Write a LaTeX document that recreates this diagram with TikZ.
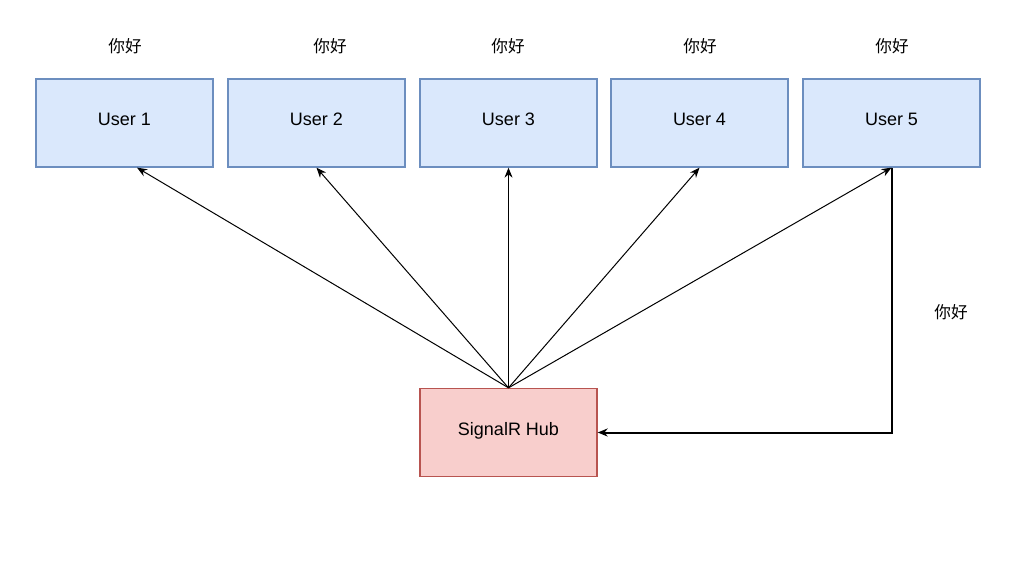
\documentclass[tikz,border=0pt]{standalone}
\usepackage{fontspec}
\setmainfont{Liberation Sans}
\newfontfamily\cjk{Noto Sans CJK SC}
\usepackage{xcolor}
\usepackage{tikz}
\usetikzlibrary{arrows.meta}

\definecolor{userfill}{HTML}{DAE8FC}
\definecolor{userline}{HTML}{6C8EBF}
\definecolor{hubfill}{HTML}{F8CECC}
\definecolor{hubline}{HTML}{B85450}

\tikzset{
    userbox/.style={rectangle, draw=userline, fill=userfill, line width=1pt, minimum width=132.75pt, minimum height=66pt, text height=9.7pt, text depth=5.2pt, font=\fontsize{13.5}{16}\selectfont},
    hubbox/.style={userbox, draw=hubline, fill=hubfill},
    msg/.style={font=\cjk\fontsize{12.5}{15}\selectfont},
    arr/.style={-{Stealth[length=7.5pt, width=6pt]}, line width=0.75pt},
}

\begin{document}
\begin{tikzpicture}[x=0.75pt, y=-0.75pt]
    \useasboundingbox (0, 0) rectangle (1024, 574);
    \node[userbox] at (124.5, 123) (u1) {User 1};
    \node[userbox] at (316.5, 123) (u2) {User 2};
    \node[userbox] at (508.5, 123) (u3) {User 3};
    \node[userbox] at (699.5, 123) (u4) {User 4};
    \node[userbox] at (891.5, 123) (u5) {User 5};
    \node[hubbox] at (508.5, 432.5) (hub) {SignalR Hub};
    \node[msg] at (125, 46) (m1) {你好};
    \node[msg] at (330, 46) (m2) {你好};
    \node[msg] at (508, 46) (m3) {你好};
    \node[msg] at (700, 46) (m4) {你好};
    \node[msg] at (892, 46) (m5) {你好};
    \node[msg] at (951, 312) (m6) {你好};
    \draw[arr] (hub.north) -- ([xshift=9.4pt]u1.south);
    \draw[arr] (hub.north) -- (u2.south);
    \draw[arr] (hub.north) -- (u3.south);
    \draw[arr] (hub.north) -- (u4.south);
    \draw[arr] (hub.north) -- (u5.south);
    \draw[arr, line width=1.5pt] (u5.south) |- (hub.east);
\end{tikzpicture}
\end{document}
